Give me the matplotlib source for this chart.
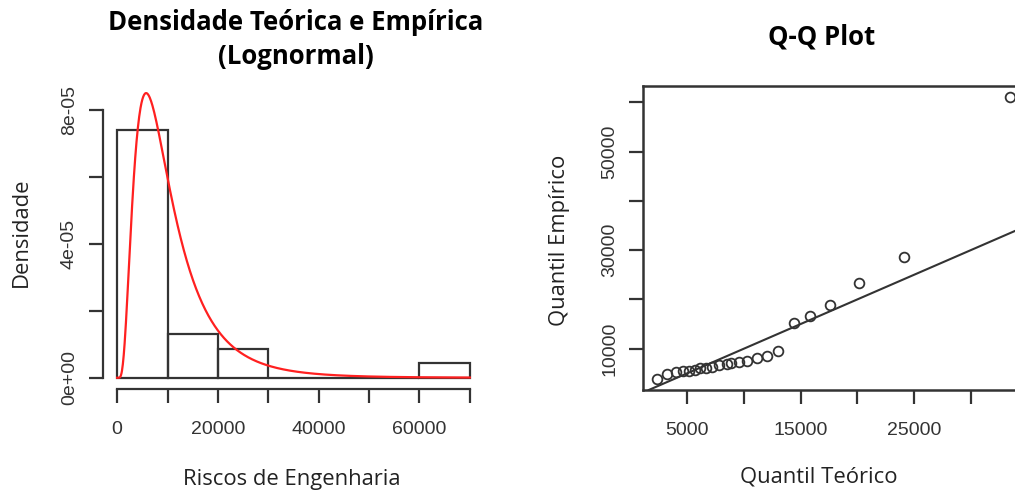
import numpy as np
import matplotlib
matplotlib.use("Agg")
import matplotlib.pyplot as plt

# histogram of the data (density scale), bin width 10000
bin_edges = [0, 10000, 20000, 30000, 40000, 50000, 60000, 70000]
bin_counts = [17, 3, 2, 0, 0, 0, 1]

meanlog = 9.09
sdlog = 0.657

# Q-Q plot: theoretical vs empirical quantiles
quantil_teorico = [2352, 3235, 4029, 4647, 5141, 5733, 6174, 6677, 7206, 7789,
                   8530, 8822, 9554, 10296, 11178, 12061, 13000, 14382, 15794,
                   17617, 20150, 24117, 33440]
quantil_empirico = [3900, 4900, 5250, 5450, 5500, 5750, 6050, 6100, 6250, 6600,
                    6900, 7100, 7300, 7600, 8100, 8450, 9500, 15264, 16606,
                    18841, 23232, 28516, 61016]

W, H = 1015, 493
fig = plt.figure(figsize=(W / 100, H / 100), dpi=100)

def fx(x):
    return x / W

def fy(y):
    return 1 - y / H

tick_font = dict(family="Liberation Sans", size=14, color="#333333")
lab_font = dict(family="Open Sans", size=15.8, color="#222222")
title_font = dict(family="Open Sans", size=18.5, weight="bold", color="black")
line_c = "#333333"

# ---------------- left: histogram + density ----------------
ax1 = fig.add_axes([fx(103), fy(389), fx(484) - fx(103), fy(85) - fy(389)])
n = sum(bin_counts)
widths = np.diff(bin_edges)
dens = np.array(bin_counts) / (n * widths)
ax1.bar(bin_edges[:-1], dens, width=widths, align="edge", facecolor="none",
        edgecolor=line_c, linewidth=1.6)
xs = np.linspace(1, 70000, 800)
pdf = np.exp(-(np.log(xs) - meanlog) ** 2 / (2 * sdlog ** 2)) / (xs * sdlog * np.sqrt(2 * np.pi))
ax1.plot(xs, pdf, color="#ff2020", linewidth=1.6)

ax1.set_xlim(-2800, 72800)
ax1.set_ylim(-3.36e-6, 8.74e-5)
for s in ["top", "right"]:
    ax1.spines[s].set_visible(False)
ax1.spines["left"].set_bounds(0, 8e-5)
ax1.spines["bottom"].set_bounds(0, 70000)
for s in ["left", "bottom"]:
    ax1.spines[s].set_color(line_c)
    ax1.spines[s].set_linewidth(1.6)
ax1.set_xticks(bin_edges)
ax1.set_xticklabels(["0", "", "20000", "", "40000", "", "60000", ""], **tick_font)
ax1.set_yticks([0, 2e-5, 4e-5, 6e-5, 8e-5])
ax1.set_yticklabels(["0e+00", "", "4e-05", "", "8e-05"], **tick_font)
ax1.tick_params(axis="both", length=10, width=1.6, color=line_c)
ax1.tick_params(axis="x", pad=13)
ax1.tick_params(axis="y", pad=8)
for t in ax1.get_yticklabels():
    t.set_rotation(90)
    t.set_va("center")

fig.text(fx(296), fy(22), "Densidade Teórica e Empírica", ha="center", va="center", **title_font)
fig.text(fx(296), fy(57), "(Lognormal)", ha="center", va="center", **title_font)
fig.text(fx(292), fy(480), "Riscos de Engenharia", ha="center", va="center", **lab_font)
fig.text(fx(21), fy(232), "Densidade", ha="center", va="center", rotation=90, **lab_font)

# ---------------- right: Q-Q plot ----------------
ax2 = fig.add_axes([fx(643), fy(390), fx(1024) - fx(643), fy(86) - fy(390)])
ax2.plot(quantil_teorico, quantil_empirico, linestyle="none", marker="o",
         markersize=7, markerfacecolor="none", markeredgecolor=line_c,
         markeredgewidth=1.3)
ax2.axline((0, 0), slope=1, color=line_c, linewidth=1.5)
xr = max(quantil_teorico) - min(quantil_teorico)
yr = max(quantil_empirico) - min(quantil_empirico)
ax2.set_xlim(min(quantil_teorico) - 0.04 * xr, max(quantil_teorico) + 0.04 * xr)
ax2.set_ylim(min(quantil_empirico) - 0.04 * yr, max(quantil_empirico) + 0.04 * yr)
for s in ax2.spines.values():
    s.set_color(line_c)
    s.set_linewidth(1.8)
ax2.set_xticks([5000, 10000, 15000, 20000, 25000, 30000])
ax2.set_xticklabels(["5000", "", "15000", "", "25000", ""], **tick_font)
ax2.set_yticks([10000, 20000, 30000, 40000, 50000, 60000])
ax2.set_yticklabels(["10000", "", "30000", "", "50000", ""], **tick_font)
ax2.tick_params(axis="both", length=10, width=1.6, color=line_c)
ax2.tick_params(axis="x", pad=13)
ax2.tick_params(axis="y", pad=8)
for t in ax2.get_yticklabels():
    t.set_rotation(90)
    t.set_va("center")

fig.text(fx(822), fy(37), "Q-Q Plot", ha="center", va="center", **title_font)
fig.text(fx(819), fy(477), "Quantil Teórico", ha="center", va="center", **lab_font)
fig.text(fx(559), fy(240), "Quantil Empírico", ha="center", va="center", rotation=90, **lab_font)

fig.savefig("out.png", dpi=100)
